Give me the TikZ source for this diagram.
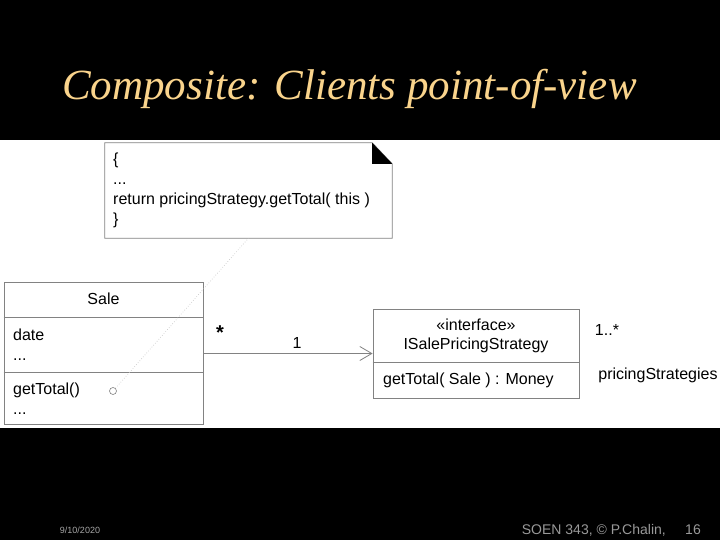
\documentclass[tikz,border=0pt]{standalone}
\usepackage{fontspec}
\setmainfont{Liberation Sans}
\newfontfamily\titlefont{Liberation Serif}
\usetikzlibrary{arrows.meta}
\definecolor{titlegold}{RGB}{250,212,140}
\definecolor{boxline}{RGB}{130,130,130}

\begin{document}
\begin{tikzpicture}[x=1pt, y=-1pt,
    every node/.style={font=\fontsize{16}{20}\selectfont, inner sep=0pt},
    umlbox/.style={draw=boxline, fill=white, line width=0.8pt},
    divider/.style={draw=boxline, line width=0.8pt},
    label/.style={anchor=base west}]
    \useasboundingbox (0,0) rectangle (720,540);
    \fill[black] (0,0) rectangle (720,540);
    \fill[white] (0,140) rectangle (720,428);

    % title
    \node[text=titlegold, font=\titlefont\itshape\fontsize{43}{46}\selectfont, anchor=base west]
        (title) at (62,100) {Composite: Clients point-of-view};

    % note with folded corner
    \node[minimum width=287, minimum height=95] (note) at (248.5,190.5) {};
    \draw[divider, fill=white] (note.north west) -- ([xshift=-20]note.north east)
        -- ([yshift=-21]note.north east) -- (note.south east)
        -- (note.south west) -- cycle;
    \fill[black] ([xshift=-20]note.north east) -- ([xshift=-20,yshift=-21]note.north east)
        -- ([yshift=-21]note.north east) -- cycle;
    \node[anchor=west, align=left] (notetext) at (113,190)
        {\{\\...\\return pricingStrategy.getTotal( this )\\\}};

    % Sale class
    \node[umlbox, minimum width=199, minimum height=142] (sale) at (103.5,353) {};
    \draw[divider] (sale.west |- 0,317) -- (sale.east |- 0,317);
    \draw[divider] (sale.west |- 0,372) -- (sale.east |- 0,372);
    \node (salename) at (103.5,299) {Sale};
    \node[anchor=west, align=left] (saleattr) at (13,344.5) {date\\...};
    \node[anchor=west, align=left] (saleops) at (13,398.5) {getTotal()\\...};
    \node[draw=boxline, circle, minimum size=7, line width=0.6pt] (hook) at (113,391) {};

    % interface
    \node[umlbox, minimum width=206, minimum height=89] (isale) at (476,353.5) {};
    \draw[divider] (isale.west |- 0,362) -- (isale.east |- 0,362);
    \node[align=center, font=\fontsize{16}{19}\selectfont] (isalename) at (476,335.5)
        {«interface»\\ISalePricingStrategy};
    \node[anchor=west] (isaleops) at (383,380) {getTotal( Sale ) : Money};

    % association
    \draw[divider, -{Straight Barb[length=12, width=14]}] (isale.west -| sale.east) -- (isale.west);
    \node[font=\bfseries\fontsize{20}{22}\selectfont] (many) at (220,333) {*};
    \node (one) at (297,343) {1};
    \node (multi) at (607,330) {1..*};
    \node (role) at (658,375) {pricingStrategies};

    % note link
    \draw[gray!50, dotted, line width=0.6pt] (hook) -- (note.south);

    % footer
    \node[text=gray!70, font=\fontsize{9}{10}\selectfont] (date) at (80,530) {9/10/2020};
    \node[text=gray!80, font=\fontsize{14}{16}\selectfont, anchor=east] (course) at (666,530)
        {SOEN 343, © P.Chalin,};
    \node[text=gray!80, font=\fontsize{14}{16}\selectfont] (page) at (693,530) {16};
\end{tikzpicture}
\end{document}
